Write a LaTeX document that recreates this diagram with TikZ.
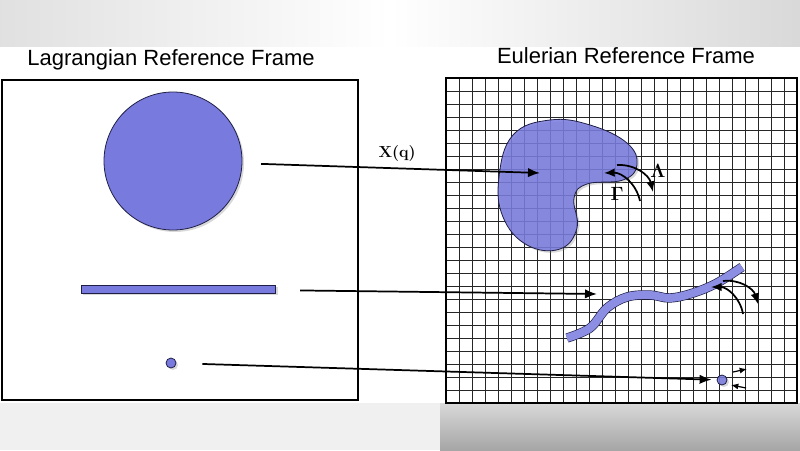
\documentclass[tikz,border=0pt]{standalone}
\usepackage{fontspec}
\newfontfamily\titlefont{Liberation Sans}
\usepackage{amsmath,amssymb}
\usepackage{tikz}
\usetikzlibrary{arrows.meta,shadows,positioning}

\definecolor{lagblue}{RGB}{120,122,222}
\definecolor{shapeline}{RGB}{30,30,70}

\begin{document}
\begin{tikzpicture}[x=0.75pt, y=-0.75pt,
    bodyfill/.style={fill=lagblue, draw=shapeline, line width=0.6pt,
        drop shadow={opacity=0.3, shadow xshift=1.5pt, shadow yshift=-1.5pt}},
    gridline/.style={black!85, line width=0.75pt},
    framebox/.style={line width=1.8pt},
    maparrow/.style={-{Latex[length=9pt,width=7pt]}, line width=1.3pt},
    turnarrow/.style={-{Latex[length=8pt,width=6.5pt]}, line width=1.3pt},
    smallarrow/.style={-{Latex[length=5.5pt,width=4.5pt]}, line width=0.9pt},
    frametitle/.style={font=\titlefont\fontsize{16.5}{20}\selectfont, anchor=base}]
    \useasboundingbox (0,0) rectangle (800,450);

    % Background bands
    \shade[left color=gray!24, right color=white] (0,0) rectangle (390,46);
    \shade[left color=white, right color=gray!30] (390,0) rectangle (800,46);
    \fill[gray!12] (0,403) rectangle (440,450);
    \shade[top color=gray!30, bottom color=gray!70] (440,403) rectangle (800,450);

    % Titles
    \node[frametitle] (lagtitle) at (171,65) {Lagrangian Reference Frame};
    \node[frametitle] (eultitle) at (626,63) {Eulerian Reference Frame};

    % Lagrangian frame
    \draw[framebox] (2,80) rectangle (358,400);
    \node[bodyfill, circle, minimum size=103.5pt, inner sep=0] (lagcirc) at (173,161) {};
    \node[bodyfill, rectangle, minimum width=146pt, minimum height=6pt, inner sep=0] (lagbar) at (178.5,289) {};
    \node[bodyfill, circle, minimum size=7.5pt, inner sep=0] (lagdot) at (171,363) {};

    % Eulerian frame (grid)
    \foreach \i in {1,...,26}
        \draw[gridline] (446+13*\i,78) -- (446+13*\i,403);
    \foreach \j in {1,...,24}
        \draw[gridline] (446,78+13*\j) -- (797,78+13*\j);
    \draw[framebox] (446,78) rectangle (797,403);

    % Immersed bodies
    \draw[bodyfill, fill opacity=0.85] plot[smooth cycle, tension=0.7] coordinates
        {(513,135) (550,120) (590,125) (627,143) (637,165) (623,180) (587,184)
         (574,198) (577,228) (560,249) (527,245) (503,217) (499,177)};
    \draw[draw=shapeline, double=lagblue!85!white, double distance=6pt, line width=0.5pt]
        plot[smooth, tension=0.6] coordinates
        {(567,338) (590,328) (607,308) (627,297) (650,295) (670,298) (693,293) (717,283) (742,267)};
    \node[bodyfill, circle, minimum size=7.5pt, inner sep=0, fill opacity=0.85] (eudot) at (722,380) {};

    % Mapping arrows
    \coordinate (blobpt) at (540,173);
    \coordinate (fibpt) at (597,294);
    \draw[maparrow, shorten <=14pt] (lagcirc) -- (blobpt)
        node[pos=0.52, above=1pt, font=\large, name=maplabel] {{\boldmath$\mathbf{X}(\mathbf{q})$}};
    \draw[maparrow, shorten <=18pt] (lagbar) -- (fibpt);
    \draw[maparrow, shorten <=19.5pt, shorten >=3.75pt] (lagdot) -- (eudot);

    % Forces on the blob
    \coordinate (lamA) at (617,165);
    \coordinate (lamB) at (653,192);
    \coordinate (gamA) at (640,201);
    \coordinate (gamB) at (604,173);
    \draw[turnarrow] (lamA) to[bend left=40] (lamB);
    \draw[turnarrow] (gamA) to[bend right=40] (gamB);
    \node[font=\Large] (lamlabel) at (658,171) {{\boldmath$\Lambda$}};
    \node[font=\Large] (gamlabel) at (617,194) {{\boldmath$\Gamma$}};

    % Forces on the fiber
    \coordinate (fibA) at (723,281);
    \coordinate (fibB) at (758,304);
    \coordinate (fibC) at (743,314);
    \coordinate (fibD) at (711,287);
    \draw[turnarrow] (fibA) to[bend left=40] (fibB);
    \draw[turnarrow] (fibC) to[bend right=40] (fibD);

    % Forces on the point
    \coordinate (dotA) at (733,372);
    \coordinate (dotB) at (747,369);
    \coordinate (dotC) at (746,388);
    \coordinate (dotD) at (731,385);
    \draw[smallarrow] (dotA) -- (dotB);
    \draw[smallarrow] (dotC) -- (dotD);
\end{tikzpicture}
\end{document}
